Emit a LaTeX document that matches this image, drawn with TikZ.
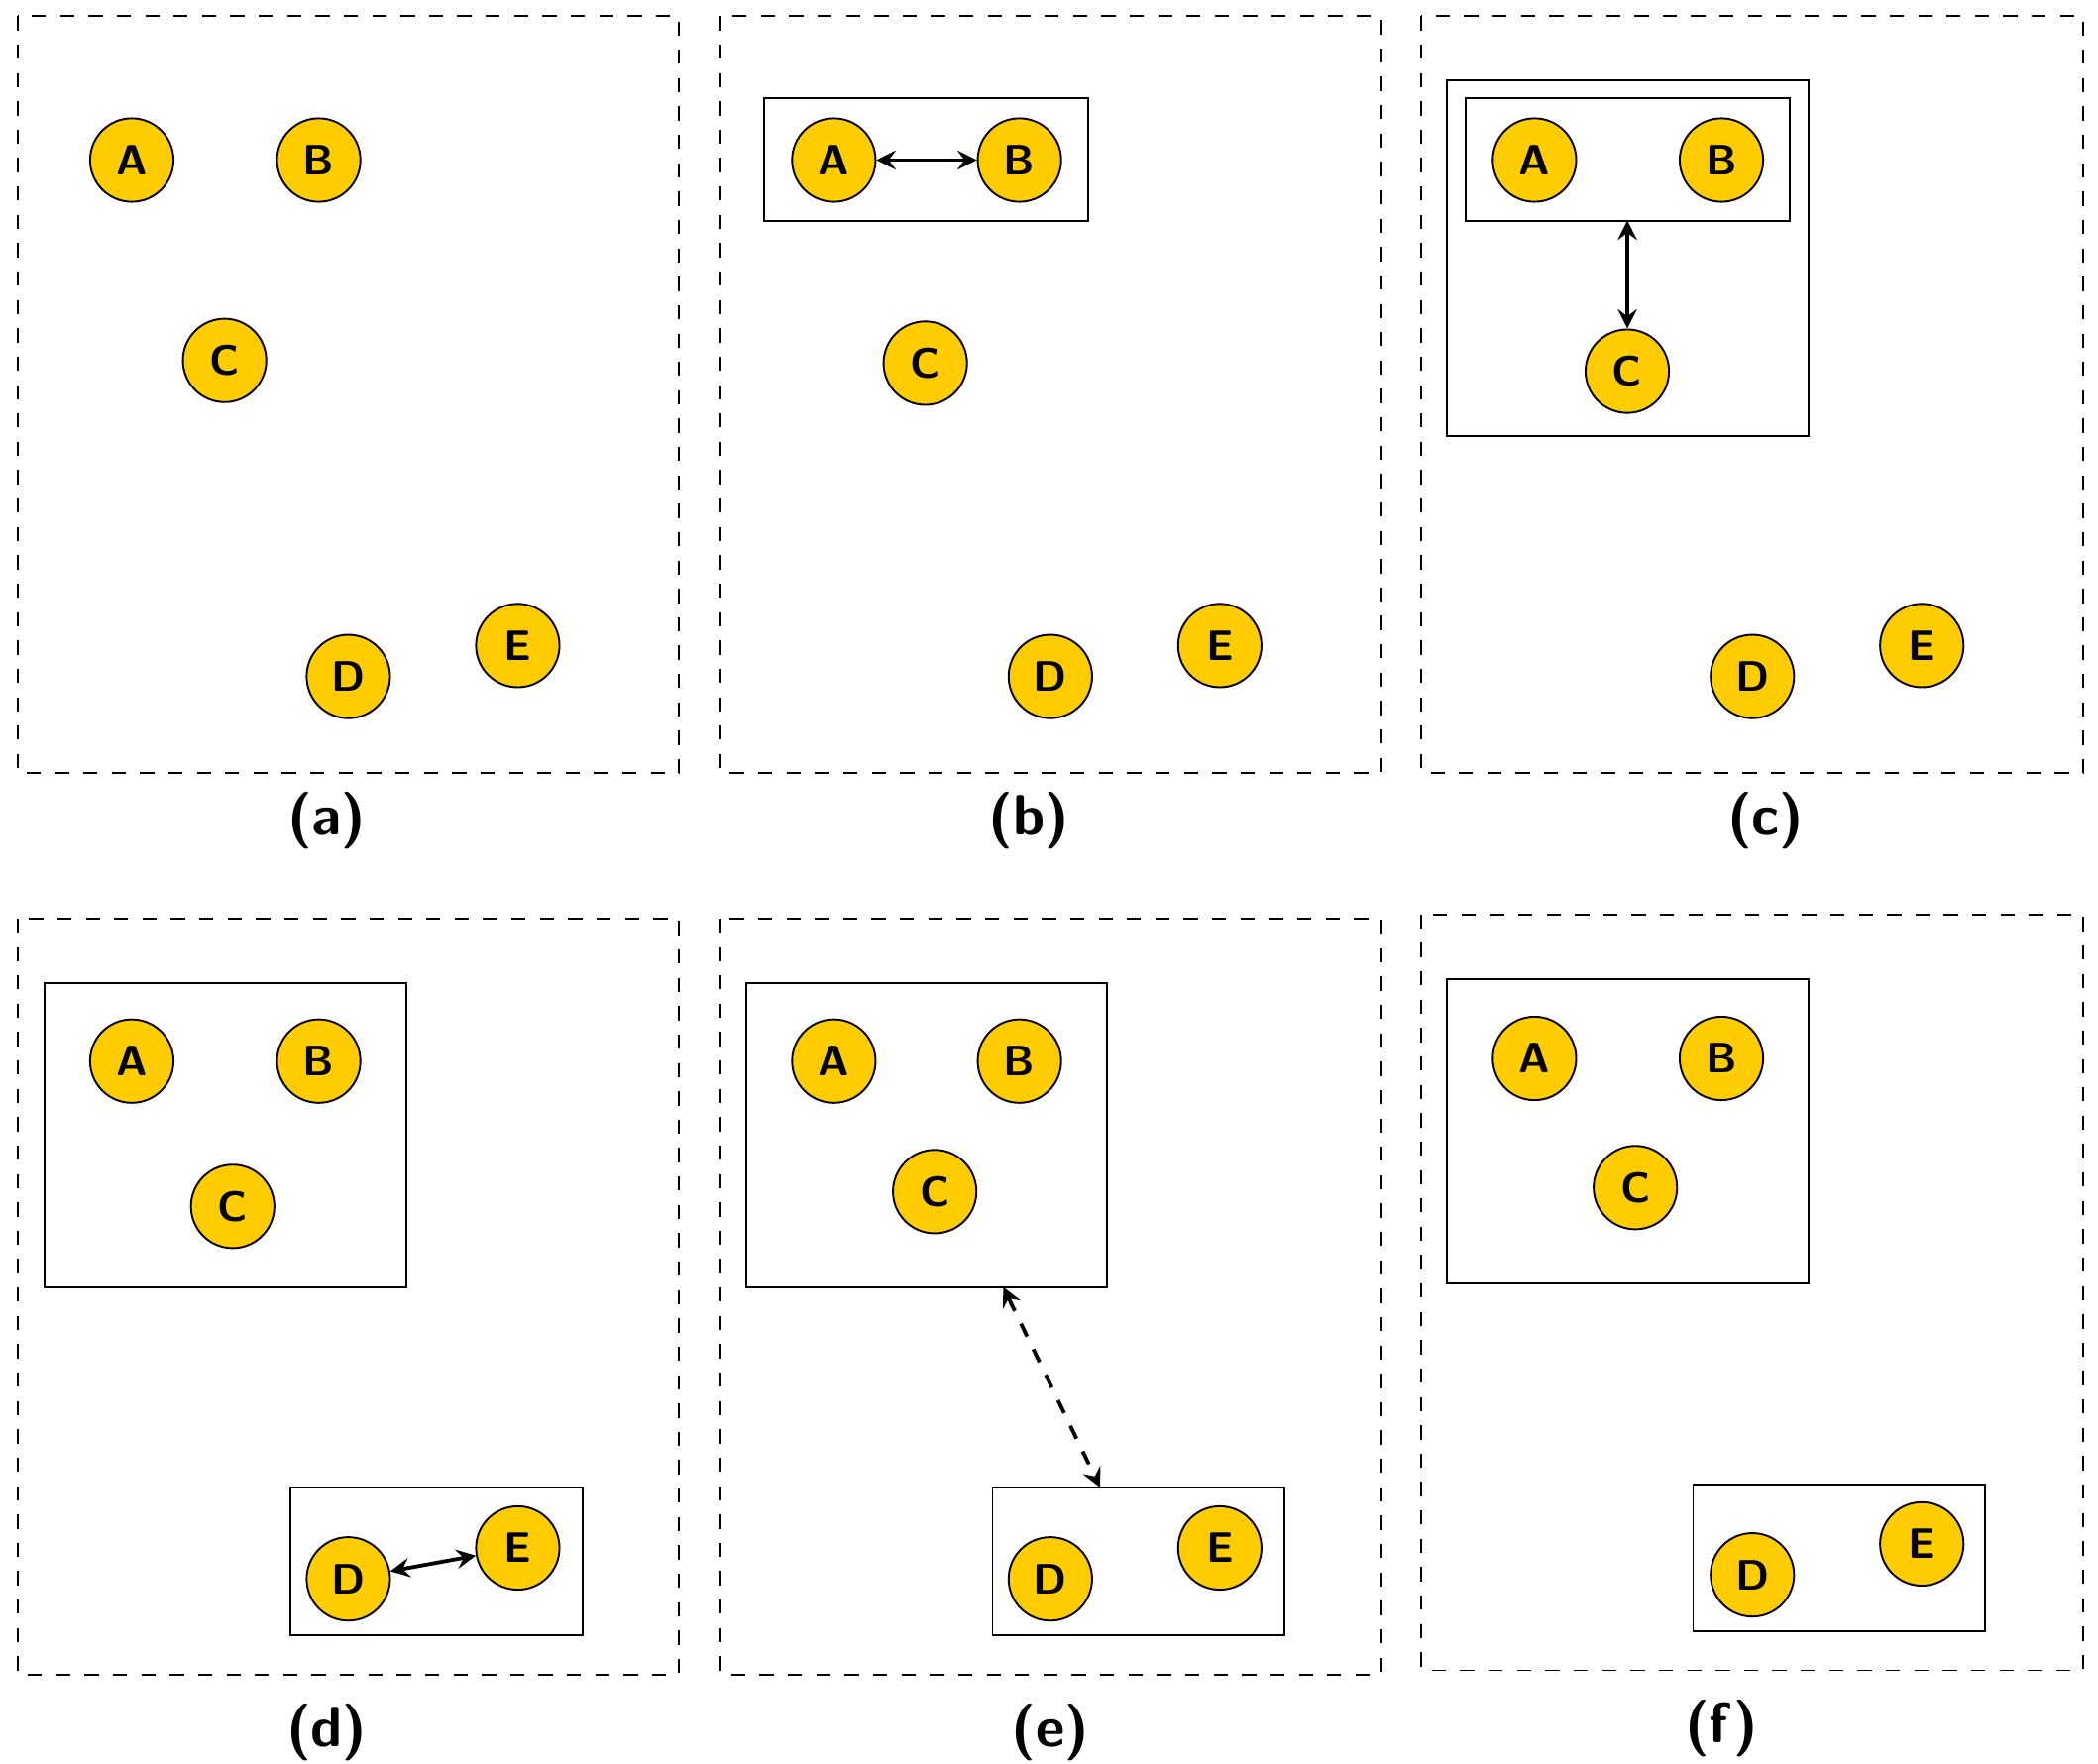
\documentclass[tikz,border=0pt]{standalone}
\usepackage{fontspec}
\setmainfont{Fira Sans}
\usetikzlibrary{arrows,positioning}
\definecolor{gold}{HTML}{FFCC00}

\begin{document}
\begin{tikzpicture}[
x=0.01cm,y=-0.01cm,
font=\bfseries\sffamily,
agent/.style={circle,draw,fill=gold,minimum size=0.62cm,inner sep=0pt,font=\bfseries\sffamily\small},
panel/.style={draw,dashed},
group/.style={draw},
link/.style={<->,>=stealth,thick},
caption/.style={font=\bfseries\sffamily\large}]
    \useasboundingbox (0,0) rectangle (1560,1311);

    % (a)
    \draw[panel] (13,12) rectangle (505,575);
    \node[agent] (aA) at (98,119) {A};
    \node[agent] (aB) at (237,119) {B};
    \node[agent] (aC) at (167,268) {C};
    \node[agent] (aD) at (259,503) {D};
    \node[agent] (aE) at (385,480) {E};
    \node[caption] (capa) at (243,610) {(a)};

    % (b)
    \draw[panel] (536,12) rectangle (1027,575);
    \draw[group] (568,73) rectangle (809,164);
    \node[agent] (bA) at (620,119) {A};
    \node[agent] (bB) at (758,119) {B};
    \node[agent] (bC) at (688,270) {C};
    \node[agent] (bD) at (781,503) {D};
    \node[agent] (bE) at (907,480) {E};
    \draw[link] (bA) -- (bB);
    \node[caption] (capb) at (765,610) {(b)};

    % (c)
    \draw[panel] (1057,12) rectangle (1549,575);
    \draw[group] (1076,60) rectangle (1345,324);
    \draw[group] (1090,73) rectangle (1331,164);
    \coordinate (cAB) at (1210,164);
    \node[agent] (cA) at (1141,119) {A};
    \node[agent] (cB) at (1280,119) {B};
    \node[agent] (cC) at (1210,276) {C};
    \node[agent] (cD) at (1303,503) {D};
    \node[agent] (cE) at (1429,480) {E};
    \draw[link] (cAB) -- (cC);
    \node[caption] (capc) at (1313,610) {(c)};

    % (d)
    \draw[panel] (13,683) rectangle (505,1245);
    \draw[group] (33,731) rectangle (302,957);
    \draw[group] (216,1106) rectangle (433,1216);
    \node[agent] (dA) at (98,789) {A};
    \node[agent] (dB) at (237,789) {B};
    \node[agent] (dC) at (173,897) {C};
    \node[agent] (dD) at (259,1174) {D};
    \node[agent] (dE) at (385,1151) {E};
    \draw[link] (dD) -- (dE);
    \node[caption] (capd) at (243,1288) {(d)};

    % (e)
    \draw[panel] (536,683) rectangle (1027,1245);
    \draw[group] (555,731) rectangle (823,957);
    \draw[group] (738,1106) rectangle (955,1216);
    \coordinate (eABC) at (746,957);
    \coordinate (eDE) at (818,1106);
    \node[agent] (eA) at (620,789) {A};
    \node[agent] (eB) at (758,789) {B};
    \node[agent] (eC) at (695,886) {C};
    \node[agent] (eD) at (781,1174) {D};
    \node[agent] (eE) at (907,1151) {E};
    \draw[link,dashed] (eABC) -- (eDE);
    \node[caption] (cape) at (781,1288) {(e)};

    % (f)
    \draw[panel] (1057,680) rectangle (1549,1242);
    \draw[group] (1076,728) rectangle (1345,954);
    \draw[group] (1259,1104) rectangle (1476,1213);
    \node[agent] (fA) at (1141,787) {A};
    \node[agent] (fB) at (1280,787) {B};
    \node[agent] (fC) at (1216,883) {C};
    \node[agent] (fD) at (1303,1171) {D};
    \node[agent] (fE) at (1429,1148) {E};
    \node[caption] (capf) at (1280,1285) {(f)};
\end{tikzpicture}
\end{document}
